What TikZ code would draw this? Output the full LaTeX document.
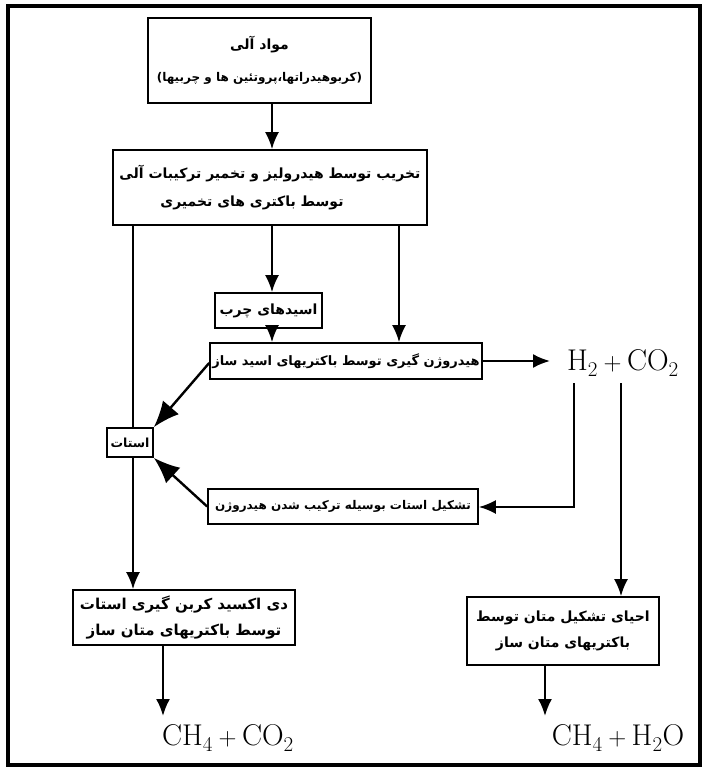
\documentclass[tikz,border=0pt]{standalone}
\usepackage{fontspec}
\newfontfamily\farsi[Script=Arabic]{DejaVu Sans}
\TeXXeTstate=1
\usetikzlibrary{arrows.meta}
\newcommand\pline[1]{{\farsi\bfseries\beginR #1\endR}}
\newcommand\fsz[1]{\fontsize{#1}{#1}\selectfont}
\begin{document}
\begin{tikzpicture}[x=1pt,y=-1pt,
  box/.style={draw, line width=1.7pt, inner sep=0pt, align=center},
  arr/.style={-{Latex[length=17pt,width=14pt]}, line width=2.1pt},
  bigarr/.style={-{Latex[length=26pt,width=21pt]}, line width=2.4pt},
  ln/.style={line width=2.1pt},
  chem/.style={inner sep=0pt, font=\fontsize{30}{32}\selectfont}]
\useasboundingbox (0,0) rectangle (706,776);
\draw[line width=3.2pt] (8,6) rectangle (700,765);

\node[box, font=\fsz{12}, minimum width=223pt, minimum height=85pt] (b1) at (259.5,60.5)
  {{\fsz{14}\pline{مواد آلی}}\\[18pt]\pline{(کربوهیدراتها،پروتئین ها و چربیها)}};
\node[box, font=\fsz{14}, minimum width=314pt, minimum height=75pt] (b2) at (270,187.5)
  {\pline{تخریب توسط هیدرولیز و تخمیر ترکیبات آلی}\\[12pt]\pline{توسط باکتری های تخمیری}\hspace*{36pt}};
\node[box, font=\fsz{14}, minimum width=107pt, minimum height=35pt] (b3) at (268.5,310.5)
  {\pline{اسیدهای چرب}};
\node[box, font=\fsz{13}, minimum width=272pt, minimum height=36pt] (b4) at (346,361)
  {\pline{هیدروژن گیری توسط باکتریهای اسید ساز}};
\node[box, font=\fsz{12.5}, minimum width=46pt, minimum height=29pt] (b5) at (130,442.5)
  {\pline{استات}};
\node[box, font=\fsz{12}, minimum width=270pt, minimum height=35pt] (b6) at (343,506.5)
  {\pline{تشکیل استات بوسیله ترکیب شدن هیدروژن}};
\node[box, font=\fsz{15}, minimum width=222pt, minimum height=55pt] (b7) at (184,617.5)
  {\pline{دی اکسید کربن گیری استات}\\[9pt]\pline{توسط باکتریهای متان ساز}};
\node[box, font=\fsz{14}, minimum width=192pt, minimum height=68pt] (b8) at (563,631)
  {\pline{احیای تشکیل متان توسط}\\[11pt]\pline{باکتریهای متان ساز}};

\node[chem] (h2) at (623,363) {$\mathrm{H_2+CO_2}$};
\node[chem] (p1) at (228,738) {$\mathrm{CH_4+CO_2}$};
\node[chem] (p2) at (618,738) {$\mathrm{CH_4+H_2O}$};

\coordinate (hc) at (574,383);
\coordinate (hk) at (574,507);
\coordinate (cc) at (621,383);
\coordinate (ha) at (550,361);

\draw[arr] (b1.south -| 272,0) -- (b2.north -| 272,0);
\draw[arr] (b2.south -| 272,0) -- (b3.north -| 272,0);
\draw[arr] (b3.south -| 272,0) -- (b4.north -| 272,0);
\draw[arr] (b2.south -| 399,0) -- (b4.north -| 399,0);
\draw[ln] (b2.south -| 133,0) -- (b5.north -| 133,0);
\draw[arr] (b5.south -| 133,0) -- (b7.north -| 133,0);
\draw[bigarr] (b4.west) ++(0,2) -- (b5.north east);
\draw[bigarr] (b6.west) -- (b5.south east);
\draw[arr] (b4.east) -- (ha);
\draw[arr] (hc) -- (hk) -- (b6.east |- hk);
\draw[arr] (cc) -- (b8.north -| cc);
\draw[arr] (b7.south -| 163,0) -- (163,716);
\draw[arr] (b8.south -| 545,0) -- (545,716);
\end{tikzpicture}
\end{document}
